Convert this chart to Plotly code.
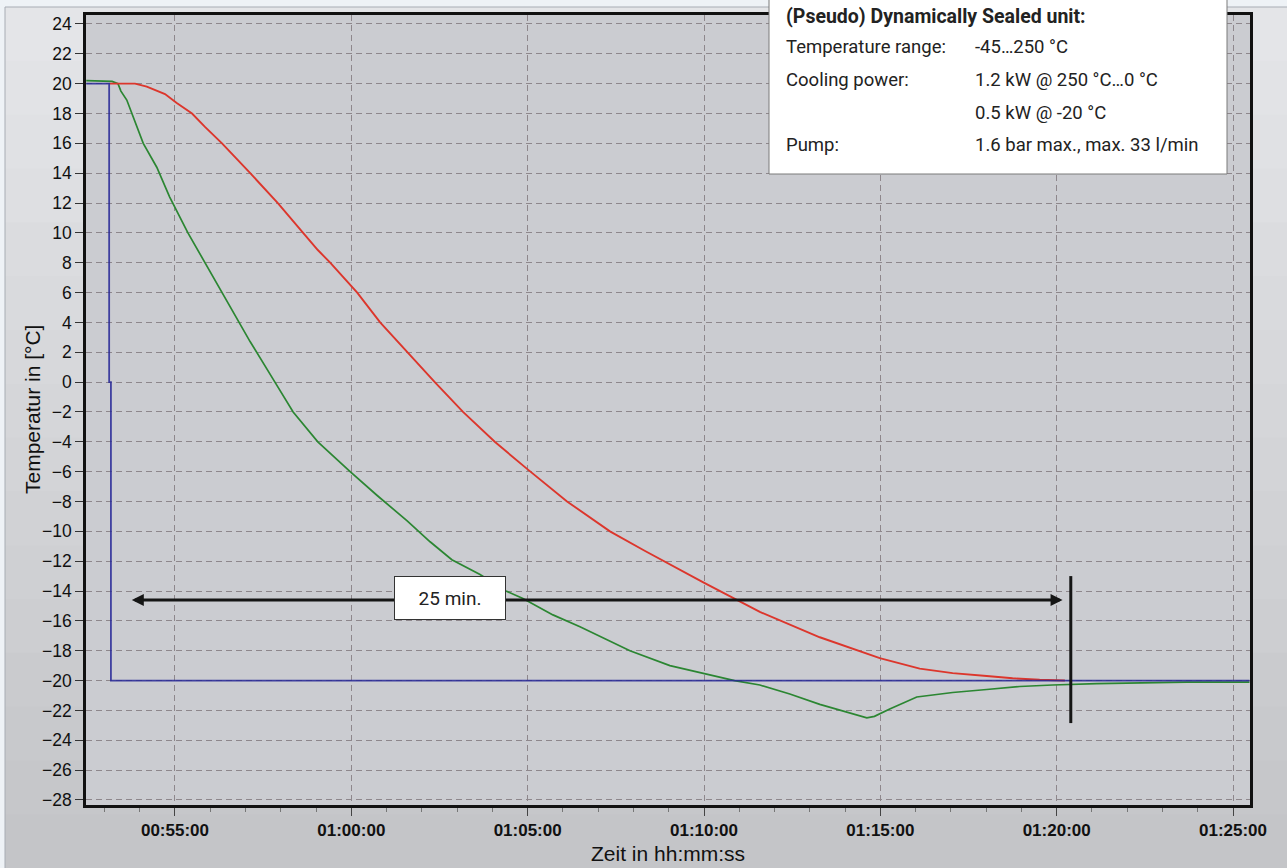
import plotly.graph_objects as go

# ---------------------------------------------------------------- data
DAY = "1970-01-01 "

# Setpoint (blue): step from +20 °C to -20 °C
setpoint_time = ["00:52:29", "00:53:08", "00:53:08", "00:53:11", "00:53:11", "01:25:28"]
setpoint_temp = [20, 20, 0, 0, -20, -20]

# Internal (process) temperature (red)
internal_time = ["00:53:09", "00:53:52", "00:54:12", "00:54:43", "00:55:03", "00:55:29",
                 "00:55:51", "00:56:20", "00:57:08", "00:57:55", "00:58:38", "00:59:03",
                 "00:59:24", "01:00:10", "01:00:49", "01:01:35", "01:02:22", "01:03:10",
                 "01:04:04", "01:05:00", "01:06:07", "01:07:20", "01:08:19", "01:09:58",
                 "01:11:35", "01:13:17", "01:14:59", "01:16:07", "01:17:03", "01:18:01",
                 "01:18:45", "01:19:31", "01:20:14"]
internal_temp = [20.0, 20.0, 19.8, 19.3, 18.7, 18.0,
                 17.1, 16.0, 14.0, 12.0, 10.0, 8.85,
                 8.0, 6.0, 4.0, 2.0, 0.0, -2.0,
                 -4.0, -5.85, -8.0, -10.0, -11.3, -13.4,
                 -15.4, -17.1, -18.5, -19.2, -19.5, -19.7,
                 -19.85, -19.95, -20.0]

# Jacket temperature (green)
jacket_time = ["00:52:29", "00:53:13", "00:53:23", "00:53:28", "00:53:38", "00:54:06",
               "00:54:29", "00:54:51", "00:55:22", "00:55:51", "00:56:20", "00:56:47",
               "00:57:08", "00:57:50", "00:58:21", "00:59:03", "00:59:58", "01:00:44",
               "01:01:35", "01:02:14", "01:02:51", "01:03:39", "01:04:23", "01:04:52",
               "01:05:43", "01:06:29", "01:07:54", "01:09:02", "01:09:58", "01:10:52",
               "01:11:35", "01:12:26", "01:13:17", "01:14:08", "01:14:37", "01:14:50",
               "01:15:16", "01:16:02", "01:17:03", "01:18:01", "01:18:57", "01:19:53",
               "01:21:08", "01:23:41", "01:25:28"]
jacket_temp = [20.2, 20.15, 20.0, 19.5, 18.9, 16.0,
               14.4, 12.4, 10.0, 8.0, 6.0, 4.1,
               2.7, 0.0, -2.0, -4.0, -6.0, -7.6,
               -9.3, -10.7, -11.9, -12.9, -14.0, -14.5,
               -15.6, -16.4, -18.0, -19.0, -19.5, -20.0,
               -20.3, -20.9, -21.6, -22.2, -22.5, -22.4,
               -21.9, -21.1, -20.8, -20.6, -20.4, -20.3,
               -20.2, -20.1, -20.1]

# Cool-down span marker
span_start, span_end, span_level = "00:53:44", "01:20:10", -14.6
span_label = "25 min."
end_marker_time = "01:20:24"
end_marker_range = (-13.0, -22.85)

info_title = "(Pseudo) Dynamically Sealed unit:"
info_rows = [("Temperature range:", "-45…250 °C"),
             ("Cooling power:", "1.2 kW @ 250 °C…0 °C"),
             ("", "0.5 kW @ -20 °C"),
             ("Pump:", "1.6 bar max., max. 33 l/min")]

x_title = "Zeit in hh:mm:ss"
y_title = "Temperatur in [°C]"


def ts(values):
    return [DAY + v for v in values]


# ---------------------------------------------------------------- geometry helpers
W, H = 1287, 868
L, R, T, B = 86, 1250, 15, 805          # plot area in pixels


def px(xp):
    return (xp - L) / (R - L)


def py(yp):
    return (B - yp) / (B - T)


AX_FONT = "Liberation Sans, Arial, sans-serif"
BOX_FONT = "Roboto, sans-serif"

fig = go.Figure()

fig.add_trace(go.Scatter(x=ts(jacket_time), y=jacket_temp, mode="lines",
                         line=dict(color="#2b8632", width=1.7), hoverinfo="skip"))
fig.add_trace(go.Scatter(x=ts(internal_time), y=internal_temp, mode="lines",
                         line=dict(color="#dc362c", width=1.9), hoverinfo="skip"))
fig.add_trace(go.Scatter(x=ts(setpoint_time), y=setpoint_temp, mode="lines",
                         line=dict(color="rgba(38,38,150,0.85)", width=1.8), hoverinfo="skip"))

shapes = []
# outer panel with a soft vertical shading
top_c, bot_c = (228, 229, 232), (196, 197, 200)
n_band = 16
y_top, y_bot = 7, H
for i in range(n_band):
    f = i / (n_band - 1)
    c = tuple(round(top_c[k] + (bot_c[k] - top_c[k]) * f) for k in range(3))
    y0p = y_top + (y_bot - y_top) * i / n_band
    y1p = y_top + (y_bot - y_top) * (i + 1) / n_band + 1
    shapes.append(dict(type="rect", xref="paper", yref="paper", layer="below",
                       x0=px(5), x1=px(W + 2), y0=py(y1p), y1=py(y0p),
                       fillcolor="rgb(%d,%d,%d)" % c, line=dict(width=0)))
shapes.append(dict(type="rect", xref="paper", yref="paper", layer="below",
                   x0=px(5), x1=px(W + 2), y0=py(H + 2), y1=py(7),
                   fillcolor="rgba(0,0,0,0)", line=dict(color="#a8adb4", width=1)))
# plot area background
shapes.append(dict(type="rect", xref="paper", yref="paper", layer="below",
                   x0=0, x1=1, y0=0, y1=1, fillcolor="#cbccd1", line=dict(width=0)))
# end-of-span marker
shapes.append(dict(type="line", xref="x", yref="y", layer="above",
                   x0=DAY + end_marker_time, x1=DAY + end_marker_time,
                   y0=end_marker_range[0], y1=end_marker_range[1],
                   line=dict(color="#151515", width=3)))
# info box
shapes.append(dict(type="rect", xref="paper", yref="paper", layer="above",
                   x0=px(769), x1=px(1227), y0=py(174), y1=py(-3),
                   fillcolor="white", line=dict(color="#7a7a7a", width=1)))

annotations = []
# double-headed span arrow
annotations.append(dict(x=DAY + span_end, y=span_level, ax=DAY + span_start, ay=span_level,
                        xref="x", yref="y", axref="x", ayref="y", text="",
                        showarrow=True, arrowside="end+start",
                        arrowhead=2, startarrowhead=2, arrowsize=0.8, startarrowsize=0.8,
                        arrowwidth=3, arrowcolor="#151515"))
annotations.append(dict(x=px(450), y=py(598), xref="paper", yref="paper",
                        xanchor="center", yanchor="middle",
                        text=span_label, showarrow=False,
                        font=dict(family=BOX_FONT, size=19, color="#222"),
                        bgcolor="white", bordercolor="#333", borderwidth=1,
                        width=108, height=40, borderpad=1))
# info box text
annotations.append(dict(x=px(784), y=py(16), xref="paper", yref="paper",
                        xanchor="left", yanchor="middle", text=info_title, showarrow=False,
                        font=dict(family=BOX_FONT, size=19.5, color="#222", weight="bold")))
row_y = [47, 80, 113, 145]
for (c1, c2), yy in zip(info_rows, row_y):
    if c1:
        annotations.append(dict(x=px(784), y=py(yy), xref="paper", yref="paper",
                                xanchor="left", yanchor="middle", text=c1, showarrow=False,
                                font=dict(family=BOX_FONT, size=18.5, color="#222")))
    annotations.append(dict(x=px(973), y=py(yy), xref="paper", yref="paper",
                            xanchor="left", yanchor="middle", text=c2, showarrow=False,
                            font=dict(family=BOX_FONT, size=18.5, color="#222")))
# axis titles
annotations.append(dict(x=px(668), y=py(853), xref="paper", yref="paper",
                        xanchor="center", yanchor="middle",
                        text=x_title, showarrow=False,
                        font=dict(family=AX_FONT, size=21, color="#111")))
annotations.append(dict(x=px(32), y=py(410), xref="paper", yref="paper",
                        xanchor="center", yanchor="middle",
                        text=y_title, showarrow=False, textangle=-90,
                        font=dict(family=AX_FONT, size=21, color="#111")))

grid_col = "#8e878c"
fig.update_layout(
    width=W, height=H,
    margin=dict(l=L, r=W - R, t=T, b=H - B, autoexpand=False),
    paper_bgcolor="#eef2f6", plot_bgcolor="#cbccd1",
    showlegend=False,
    shapes=shapes, annotations=annotations,
    xaxis=dict(type="date", range=[DAY + "00:52:28.6", DAY + "01:25:28.9"],
               tickformat="%H:%M:%S", tick0=DAY + "00:00:00", dtick=300000,
               ticks="outside", ticklen=8, tickwidth=1, tickcolor="#444",
               tickfont=dict(family=AX_FONT, size=17, color="#111", weight="bold"),
               showgrid=True, gridcolor=grid_col, griddash="6px,4px", gridwidth=1,
               showline=True, linecolor="#111", linewidth=2.5, mirror=True,
               zeroline=False, automargin=False,
               minor=dict(dtick=60000, tick0=DAY + "00:00:00", ticks="outside",
                          ticklen=4, tickcolor="#777", showgrid=False)),
    yaxis=dict(range=[-28.34, 24.6], tick0=0, dtick=2,
               ticks="outside", ticklen=8, tickwidth=1, tickcolor="#333",
               tickfont=dict(family=AX_FONT, size=17.5, color="#111"),
               showgrid=True, gridcolor=grid_col, griddash="6px,4px", gridwidth=1,
               showline=True, linecolor="#111", linewidth=2.5, mirror=True,
               zeroline=False, automargin=False),
)

fig.write_html("out.html")
